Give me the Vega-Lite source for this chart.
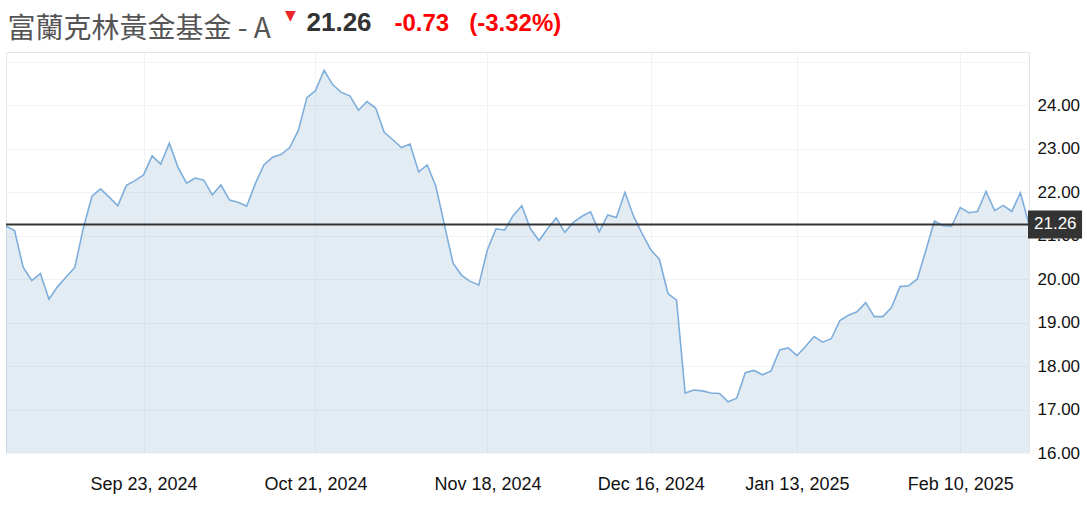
{
  "$schema": "https://vega.github.io/schema/vega-lite/v6.json",
  "width": 1023,
  "height": 401,
  "autosize": {"type": "none"},
  "padding": {"left": 6, "top": 52, "right": 58, "bottom": 55},
  "background": "white",
  "config": {
    "view": {"stroke": "#e1e5ea", "strokeWidth": 1},
    "font": "Liberation Sans"
  },
  "data": {
    "values": [
      {"date": "2024-08-29", "price": 21.22},
      {"date": "2024-08-30", "price": 21.12},
      {"date": "2024-09-03", "price": 20.27},
      {"date": "2024-09-04", "price": 19.97},
      {"date": "2024-09-05", "price": 20.13},
      {"date": "2024-09-06", "price": 19.54},
      {"date": "2024-09-09", "price": 19.83},
      {"date": "2024-09-10", "price": 20.05},
      {"date": "2024-09-11", "price": 20.27},
      {"date": "2024-09-12", "price": 21.18},
      {"date": "2024-09-13", "price": 21.91},
      {"date": "2024-09-16", "price": 22.08},
      {"date": "2024-09-17", "price": 21.89},
      {"date": "2024-09-18", "price": 21.69},
      {"date": "2024-09-19", "price": 22.16},
      {"date": "2024-09-20", "price": 22.27},
      {"date": "2024-09-23", "price": 22.40},
      {"date": "2024-09-24", "price": 22.84},
      {"date": "2024-09-25", "price": 22.65},
      {"date": "2024-09-26", "price": 23.13},
      {"date": "2024-09-27", "price": 22.58},
      {"date": "2024-09-30", "price": 22.21},
      {"date": "2024-10-01", "price": 22.33},
      {"date": "2024-10-02", "price": 22.28},
      {"date": "2024-10-03", "price": 21.94},
      {"date": "2024-10-04", "price": 22.17},
      {"date": "2024-10-07", "price": 21.82},
      {"date": "2024-10-08", "price": 21.77},
      {"date": "2024-10-09", "price": 21.68},
      {"date": "2024-10-10", "price": 22.20},
      {"date": "2024-10-11", "price": 22.63},
      {"date": "2024-10-14", "price": 22.81},
      {"date": "2024-10-15", "price": 22.87},
      {"date": "2024-10-16", "price": 23.03},
      {"date": "2024-10-17", "price": 23.42},
      {"date": "2024-10-18", "price": 24.18},
      {"date": "2024-10-21", "price": 24.34},
      {"date": "2024-10-22", "price": 24.81},
      {"date": "2024-10-23", "price": 24.48},
      {"date": "2024-10-24", "price": 24.30},
      {"date": "2024-10-25", "price": 24.22},
      {"date": "2024-10-28", "price": 23.89},
      {"date": "2024-10-29", "price": 24.09},
      {"date": "2024-10-30", "price": 23.94},
      {"date": "2024-10-31", "price": 23.38},
      {"date": "2024-11-01", "price": 23.21},
      {"date": "2024-11-04", "price": 23.03},
      {"date": "2024-11-05", "price": 23.11},
      {"date": "2024-11-06", "price": 22.47},
      {"date": "2024-11-07", "price": 22.63},
      {"date": "2024-11-08", "price": 22.14},
      {"date": "2024-11-11", "price": 21.25},
      {"date": "2024-11-12", "price": 20.37},
      {"date": "2024-11-13", "price": 20.09},
      {"date": "2024-11-14", "price": 19.95},
      {"date": "2024-11-15", "price": 19.87},
      {"date": "2024-11-18", "price": 20.68},
      {"date": "2024-11-19", "price": 21.16},
      {"date": "2024-11-20", "price": 21.13},
      {"date": "2024-11-21", "price": 21.47},
      {"date": "2024-11-22", "price": 21.69},
      {"date": "2024-11-25", "price": 21.16},
      {"date": "2024-11-26", "price": 20.89},
      {"date": "2024-11-27", "price": 21.16},
      {"date": "2024-11-29", "price": 21.41},
      {"date": "2024-12-02", "price": 21.08},
      {"date": "2024-12-03", "price": 21.31},
      {"date": "2024-12-04", "price": 21.45},
      {"date": "2024-12-05", "price": 21.55},
      {"date": "2024-12-06", "price": 21.09},
      {"date": "2024-12-09", "price": 21.48},
      {"date": "2024-12-10", "price": 21.42},
      {"date": "2024-12-11", "price": 22.00},
      {"date": "2024-12-12", "price": 21.45},
      {"date": "2024-12-13", "price": 21.05},
      {"date": "2024-12-16", "price": 20.68},
      {"date": "2024-12-17", "price": 20.46},
      {"date": "2024-12-18", "price": 19.67},
      {"date": "2024-12-19", "price": 19.52},
      {"date": "2024-12-20", "price": 17.38},
      {"date": "2024-12-23", "price": 17.45},
      {"date": "2024-12-24", "price": 17.43},
      {"date": "2024-12-26", "price": 17.38},
      {"date": "2024-12-27", "price": 17.37},
      {"date": "2024-12-30", "price": 17.18},
      {"date": "2024-12-31", "price": 17.26},
      {"date": "2025-01-02", "price": 17.85},
      {"date": "2025-01-03", "price": 17.90},
      {"date": "2025-01-06", "price": 17.80},
      {"date": "2025-01-07", "price": 17.89},
      {"date": "2025-01-08", "price": 18.37},
      {"date": "2025-01-10", "price": 18.42},
      {"date": "2025-01-13", "price": 18.24},
      {"date": "2025-01-14", "price": 18.45},
      {"date": "2025-01-15", "price": 18.68},
      {"date": "2025-01-16", "price": 18.55},
      {"date": "2025-01-17", "price": 18.63},
      {"date": "2025-01-21", "price": 19.05},
      {"date": "2025-01-22", "price": 19.17},
      {"date": "2025-01-23", "price": 19.25},
      {"date": "2025-01-24", "price": 19.46},
      {"date": "2025-01-27", "price": 19.14},
      {"date": "2025-01-28", "price": 19.14},
      {"date": "2025-01-29", "price": 19.35},
      {"date": "2025-01-30", "price": 19.83},
      {"date": "2025-01-31", "price": 19.85},
      {"date": "2025-02-03", "price": 20.00},
      {"date": "2025-02-04", "price": 20.66},
      {"date": "2025-02-05", "price": 21.34},
      {"date": "2025-02-06", "price": 21.23},
      {"date": "2025-02-07", "price": 21.22},
      {"date": "2025-02-10", "price": 21.65},
      {"date": "2025-02-11", "price": 21.53},
      {"date": "2025-02-12", "price": 21.56},
      {"date": "2025-02-13", "price": 22.02},
      {"date": "2025-02-14", "price": 21.58},
      {"date": "2025-02-18", "price": 21.70},
      {"date": "2025-02-19", "price": 21.56},
      {"date": "2025-02-20", "price": 21.99},
      {"date": "2025-02-21", "price": 21.26}
    ]
  },
  "resolve": {"axis": {"x": "independent", "y": "independent"}},
  "layer": [
    {
      "mark": {"type": "area", "color": "#5a8ab5", "opacity": 0.16},
      "encoding": {
        "x": {
          "field": "date",
          "type": "ordinal",
          "sort": "ascending",
          "scale": {"type": "point", "padding": 0},
          "axis": {
            "orient": "bottom",
            "values": ["2024-09-23", "2024-10-21", "2024-11-18", "2024-12-16", "2025-01-13", "2025-02-10"],
            "labelExpr": "utcFormat(toDate(datum.value), '%b %d, %Y')",
            "labelFont": "Liberation Sans",
            "labelFontSize": 18,
            "labelColor": "#111111",
            "labelAngle": 0,
            "labelPadding": 36,
            "labelBaseline": "alphabetic",
            "ticks": false,
            "domain": false,
            "grid": true,
            "gridColor": "#f1f3f6",
            "gridWidth": 1,
            "title": "-0.73\u00a0\u00a0\u00a0(-3.32%)",
            "titleFont": "Liberation Sans",
            "titleColor": "#ff0000",
            "titleFontSize": 24,
            "titleFontWeight": "bold",
            "titleAlign": "left",
            "titleBaseline": "alphabetic",
            "titleAngle": 0,
            "titleX": 388,
            "titleY": -422.3
          }
        },
        "y": {
          "field": "price",
          "type": "quantitative",
          "scale": {"domain": [16, 25.23], "nice": false, "zero": false},
          "axis": {
            "orient": "right",
            "values": [16, 17, 18, 19, 20, 21, 22, 23, 24, 25],
            "labelExpr": "datum.value > 24.5 ? '' : format(datum.value, '.2f')",
            "labelFont": "Liberation Sans",
            "labelFontSize": 17,
            "labelColor": "#111111",
            "labelPadding": 8,
            "labelBaseline": "middle",
            "ticks": false,
            "domain": false,
            "grid": true,
            "gridColor": "#f1f3f6",
            "gridWidth": 1,
            "title": "21.26",
            "titleFont": "Liberation Sans",
            "titleColor": "#333333",
            "titleFontSize": 26,
            "titleFontWeight": "bold",
            "titleAngle": 0,
            "titleAlign": "left",
            "titleBaseline": "alphabetic",
            "titleX": -723,
            "titleY": -21.3
          }
        },
        "y2": {"datum": 16}
      }
    },
    {
      "mark": {"type": "line", "color": "#7eaedc", "strokeWidth": 1.6},
      "encoding": {
        "x": {"field": "date", "type": "ordinal", "axis": null},
        "y": {"field": "price", "type": "quantitative", "axis": null}
      }
    },
    {
      "transform": [{"filter": "datum.date == '2025-02-21'"}],
      "mark": {"type": "rule", "color": "#333333", "strokeWidth": 2},
      "encoding": {
        "y": {"field": "price", "type": "quantitative", "axis": null}
      }
    },
    {
      "transform": [{"filter": "datum.date == '2025-02-21'"}],
      "mark": {"type": "point", "shape": "M-0.07,-1H3.79V1H-0.07Z", "filled": true, "color": "#333333", "opacity": 1, "size": 784, "strokeWidth": 0},
      "encoding": {
        "x": {
          "field": "date",
          "type": "ordinal",
          "axis": {
            "orient": "top",
            "labels": false,
            "ticks": false,
            "domain": false,
            "grid": false,
            "title": "▼",
            "titleFont": "DejaVu Sans",
            "titleFontSize": 14,
            "titleColor": "#e8262b",
            "titleAngle": 0,
            "titleAlign": "center",
            "titleBaseline": "middle",
            "titleX": 284,
            "titleY": -37
          }
        },
        "y": {
          "field": "price",
          "type": "quantitative",
          "axis": {
            "orient": "left",
            "labels": false,
            "ticks": false,
            "domain": false,
            "grid": false,
            "title": "富蘭克林黃金基金 - A",
            "titleFont": "Noto Sans CJK TC",
            "titleFontSize": 28,
            "titleFontWeight": "normal",
            "titleColor": "#555555",
            "titleAngle": 0,
            "titleAlign": "left",
            "titleBaseline": "alphabetic",
            "titleX": 1,
            "titleY": -15
          }
        }
      }
    },
    {
      "transform": [{"filter": "datum.date == '2025-02-21'"}],
      "mark": {"type": "text", "color": "white", "font": "Liberation Sans", "fontSize": 17, "align": "left", "baseline": "middle", "dx": 5},
      "encoding": {
        "x": {"field": "date", "type": "ordinal", "axis": null},
        "y": {"field": "price", "type": "quantitative", "axis": null},
        "text": {"field": "price", "type": "quantitative", "format": ".2f"}
      }
    }
  ]
}
